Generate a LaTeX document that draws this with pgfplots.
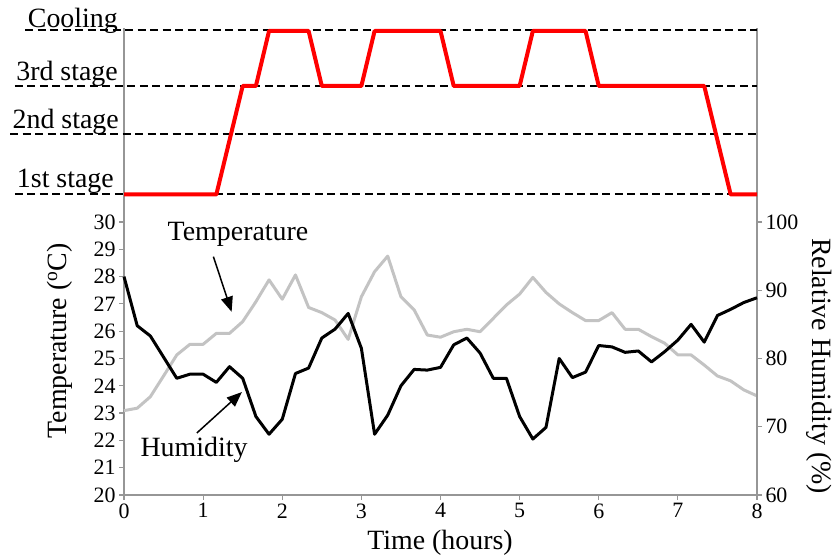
\documentclass[border=0pt]{standalone}
\usepackage{fontspec}
\setmainfont{LiberationSerif-Regular.ttf}[BoldFont=LiberationSerif-Bold.ttf, ItalicFont=LiberationSerif-Italic.ttf]
\usepackage{pgfplots}
\usepackage{pgfplotstable}
\pgfplotsset{compat=1.18}
\usetikzlibrary{arrows.meta}

\definecolor{axgray}{RGB}{150,150,150}
\definecolor{tempgray}{RGB}{195,195,195}

\pgfplotstableread{
x T
0     23.09
0.167 23.18
0.333 23.60
0.5   24.36
0.667 25.13
0.833 25.52
1.0   25.52
1.167 25.92
1.333 25.92
1.5   26.35
1.667 27.08
1.833 27.88
2.0   27.17
2.167 28.06
2.333 26.87
2.5   26.68
2.667 26.41
2.833 25.70
3.0   27.26
3.167 28.18
3.333 28.75
3.5   27.26
3.667 26.78
3.833 25.86
4.0   25.78
4.167 25.98
4.333 26.07
4.5   25.98
4.667 26.47
4.833 26.96
5.0   27.36
5.167 27.97
5.333 27.42
5.5   27.00
5.667 26.68
5.833 26.39
6.0   26.39
6.167 26.68
6.333 26.07
6.5   26.07
6.667 25.80
6.833 25.56
7.0   25.13
7.167 25.13
7.333 24.76
7.5   24.36
7.667 24.18
7.833 23.85
8.0   23.63
}\temptable

\pgfplotstableread{
x H
0     92.0
0.167 84.8
0.333 83.3
0.5   80.2
0.667 77.1
0.833 77.7
1.0   77.7
1.167 76.5
1.333 78.8
1.5   77.1
1.667 71.5
1.833 68.9
2.0   71.1
2.167 77.8
2.333 78.6
2.5   83.0
2.667 84.3
2.833 86.6
3.0   81.5
3.167 68.9
3.333 71.7
3.5   76.0
3.667 78.4
3.833 78.3
4.0   78.7
4.167 82.0
4.333 83.0
4.5   80.8
4.667 77.1
4.833 77.1
5.0   71.5
5.167 68.2
5.333 69.9
5.5   80.0
5.667 77.2
5.833 78.0
6.0   81.9
6.167 81.7
6.333 80.9
6.5   81.1
6.667 79.5
6.833 81.0
7.0   82.7
7.167 85.0
7.333 82.4
7.5   86.3
7.667 87.2
7.833 88.2
8.0   88.9
}\humtable

\begin{document}
\begin{tikzpicture}[x=1bp,y=1bp]
\useasboundingbox (0,0) rectangle (838,558);

% ---------- top panel: stages ----------
\begin{axis}[
  at={(124bp,336bp)}, anchor=south west,
  scale only axis, width=633bp, height=194bp,
  xmin=0, xmax=8, ymin=0, ymax=194,
  axis x line=none, axis y line=box,
  y axis line style={axgray, line width=1.5bp},
  xtick=\empty, ytick=\empty,
  clip=false,
]
\addplot[black, line width=2bp, dash pattern=on 8bp off 4.5bp] coordinates {(-1.25,192) (8,192)};
\addplot[black, line width=2bp, dash pattern=on 8bp off 4.5bp] coordinates {(-1.38,136) (8,136)};
\addplot[black, line width=2bp, dash pattern=on 8bp off 4.5bp] coordinates {(-1.44,88) (8,88)};
\addplot[black, line width=2bp, dash pattern=on 8bp off 4.5bp] coordinates {(-1.38,28) (8,28)};
\addplot[red, line width=4bp, line join=round] coordinates {
 (0,27.5) (1.167,27.5) (1.5,136) (1.667,136) (1.833,191) (2.333,191)
 (2.5,136) (3.0,136) (3.167,191) (4.0,191) (4.167,136) (5.0,136)
 (5.167,191) (5.833,191) (6.0,136) (7.333,136) (7.667,27.5) (8,27.5)};
\end{axis}

% ---------- bottom panel: temperature ----------
\begin{axis}[
  at={(124bp,63bp)}, anchor=south west,
  scale only axis, width=633bp, height=273bp,
  xmin=0, xmax=8, ymin=20, ymax=30,
  axis x line*=bottom, axis y line*=left,
  axis line style={axgray, line width=1.5bp},
  tick align=outside, major tick length=5bp,
  tick style={axgray, line width=1.2bp},
  xtick={0,1,...,8}, ytick={20,21,...,30},
  tick label style={font=\fontsize{22}{22}\selectfont, text=black},
  /pgf/number format/assume math mode=true,
  clip=false,
]
\addplot[tempgray, line width=3bp, line join=round] table[x=x,y=T] {\temptable};
\draw[black, line width=1.5bp, -{Triangle[length=15bp,width=12bp]}] (axis cs:1.13,28.73) -- (axis cs:1.36,26.71);
\draw[black, line width=1.5bp, -{Triangle[length=15bp,width=12bp]}] (axis cs:0.92,22.27) -- (axis cs:1.49,23.77);
\end{axis}

% ---------- bottom panel: humidity ----------
\begin{axis}[
  at={(124bp,63bp)}, anchor=south west,
  scale only axis, width=633bp, height=273bp,
  xmin=0, xmax=8, ymin=60, ymax=100,
  axis x line=none, axis y line*=right,
  axis line style={axgray, line width=1.5bp},
  tick align=outside, major tick length=5bp,
  tick style={axgray, line width=1.2bp},
  ytick={60,70,...,100},
  tick label style={font=\fontsize{22}{22}\selectfont, text=black},
  /pgf/number format/assume math mode=true,
  clip=false,
]
\addplot[black, line width=3bp, line join=round] table[x=x,y=H] {\humtable};
\end{axis}

% ---------- texts ----------
\begin{scope}[every node/.style={font=\fontsize{28}{28}\selectfont, inner sep=0pt}]
\node[anchor=base east] at (118,530) {Cooling};
\node[anchor=base east] at (118,477) {3rd stage};
\node[anchor=base east] at (119,429) {2nd stage};
\node[anchor=base east] at (114,370) {1st stage};
\node[anchor=base] at (238,317) {Temperature};
\node[anchor=base] at (194,101) {Humidity};
\node[anchor=base, rotate=90] at (66,217) {Temperature (\textsuperscript{o}C)};
\node[anchor=base, rotate=-90] at (812,192) {Relative Humidity (\%)};
\node[anchor=base] at (440,8) {Time (hours)};
\end{scope}
\end{tikzpicture}
\end{document}
